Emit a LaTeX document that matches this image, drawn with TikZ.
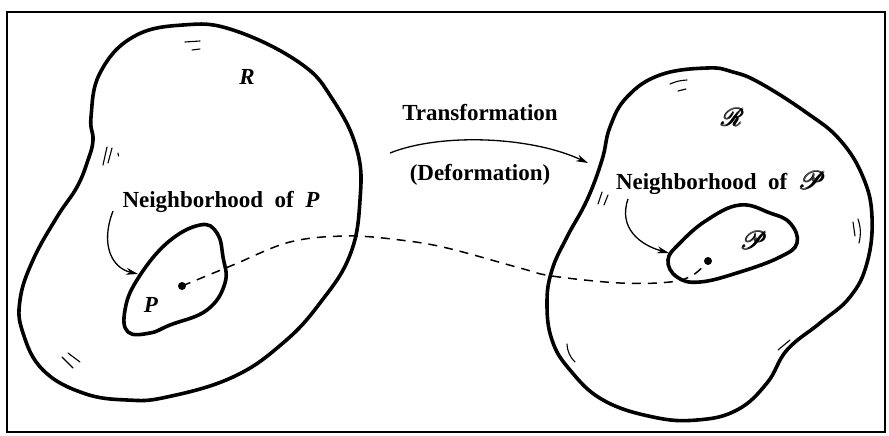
\documentclass[tikz,border=0pt]{standalone}
\usepackage{fontspec}
\setmainfont{Liberation Serif}
\usepackage{amsmath}
\usepackage{mathrsfs}
\usetikzlibrary{arrows.meta}

\begin{document}
\begin{tikzpicture}[x=1pt,y=-1pt,
    region/.style={line width=3.6pt, line join=round},
    link/.style={line width=1.5pt, dash pattern=on 9pt off 7pt},
    pointer/.style={line width=1.3pt, -{Stealth[length=12pt,width=7pt]}},
    hatch/.style={line width=1.1pt, line cap=round},
    dot/.style={circle, fill, inner sep=0pt, minimum size=8pt},
    lbl/.style={font=\bfseries\fontsize{23}{25}\selectfont, inner sep=0pt},
    sym/.style={font=\fontsize{23}{25}\selectfont, inner sep=0pt}]
    \useasboundingbox (0,0) rectangle (889,436);
    \draw[line width=2pt] (7,12) rectangle (885,432);
    % body R and its image
    \draw[region] plot[smooth cycle, tension=0.7] coordinates {(183,25) (233,30) (300,63) (333,100) (357,150) (360,200) (350,255) (320,303) (283,343) (233,377) (167,397) (127,400) (83,393) (43,370) (23,333) (20,300) (33,260) (57,217) (77,187) (88,160) (93,140) (91,117) (100,73) (133,37)};
    \draw[region] plot[smooth cycle, tension=0.7] coordinates {(200,225) (217,233) (223,257) (225,283) (207,310) (170,325) (150,333) (128,332) (125,310) (137,280) (167,243)};
    \draw[region] plot[smooth cycle, tension=0.7] coordinates {(707,68) (733,72) (760,83) (807,113) (840,140) (863,177) (872,217) (867,263) (850,297) (820,323) (787,350) (767,383) (737,410) (697,420) (653,417) (603,400) (570,370) (552,340) (547,303) (552,270) (567,237) (587,200) (602,160) (610,127) (627,97) (660,75)};
    \draw[region] plot[smooth cycle, tension=0.7] coordinates {(740,205) (770,213) (790,223) (797,243) (780,257) (740,272) (700,282) (677,277) (668,260) (680,243) (707,220)};
    % shading strokes
    \draw[hatch] (185,42) -- (200,41); \draw[hatch] (192,50) -- (200,49);
    \draw[hatch] (103,165) -- (107,147); \draw[hatch] (108,163) -- (112,148); \draw[hatch] (118,153) -- (118.5,156);
    \draw[hatch] (62,357) -- (73,368); \draw[hatch] (68,353) -- (80,362);
    \draw[hatch] (670,84) to[bend left=10] (687,80); \draw[hatch] (678,91) -- (686,89);
    \draw[hatch] (598,204) -- (602,192); \draw[hatch] (604,205) -- (608,195);
    \draw[hatch] (853,222) -- (855,236); \draw[hatch] (858,219) to[bend left=15] (859,243);
    \draw[hatch] (778,350) -- (790,340);
    \draw[hatch] (567,344) to[bend right=20] (575,362);
    % points
    \node[dot] (P) at (182,286) {};
    \node[dot] (Pimg) at (708,261) {};
    \draw[link] plot[smooth, tension=0.6] coordinates {(P.center) (233,265) (290,242) (347,236) (400,240) (447,248) (520,268) (552,276) (620,283) (670,282) (693,275) (Pimg.center)};
    % labels
    \node[lbl] (Rlab) at (247,77) {\textit{R}};
    \node[lbl] (Plab) at (151,305) {\textit{P}};
    \node[sym] (Rimg) at (733,117) {$\pmb{\mathscr{R}}$};
    \node[sym] (Pimglab) at (754,240) {$\pmb{\mathscr{P}}$};
    \node[lbl] (hoodP) at (221,202) {Neighborhood\hspace{.5em}of\hspace{.5em}\textit{P}};
    \node[lbl] (hoodPimg) at (721,183) {Neighborhood\hspace{.5em}of\hspace{.5em}$\pmb{\mathscr{P}}$};
    \node[lbl] (tf) at (480,113) {Transformation};
    \node[lbl] (df) at (480,175) {(Deformation)};
    % arrows
    \coordinate (tfa) at (390,153);
    \coordinate (tfb) at (588,163);
    \draw[pointer] (tfa) .. controls (440,133) and (530,136) .. (tfb);
    \coordinate (hoodPtail) at (113,211);
    \coordinate (hoodPtip) at (138,274);
    \draw[pointer] (hoodPtail) .. controls (100,245) and (112,268) .. (hoodPtip);
    \coordinate (hoodPimgtail) at (628,199);
    \coordinate (hoodPimgtip) at (669,253);
    \draw[pointer] (hoodPimgtail) .. controls (618,228) and (640,245) .. (hoodPimgtip);
\end{tikzpicture}
\end{document}
